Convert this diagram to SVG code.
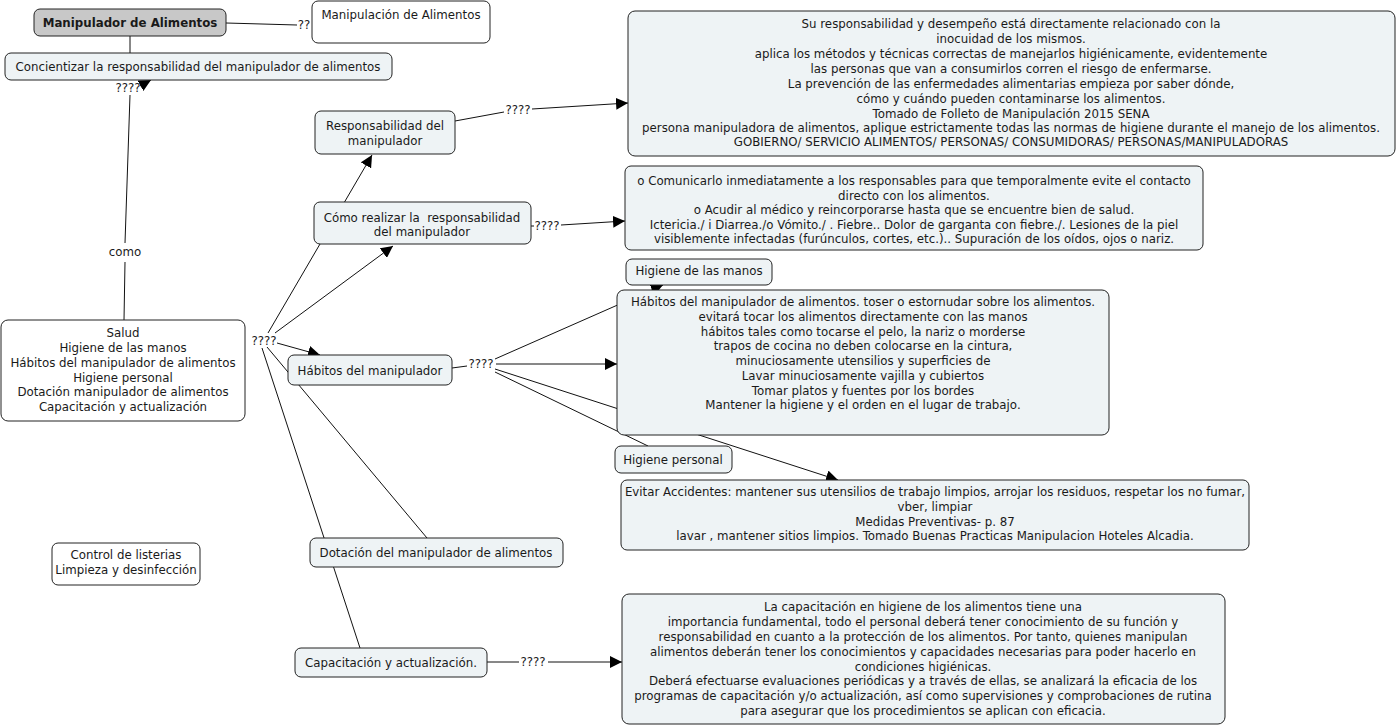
<svg xmlns="http://www.w3.org/2000/svg" width="1398" height="728" viewBox="0 0 1398 728">
<style>
text{font-family:"DejaVu Sans","Verdana",sans-serif;font-size:11.8px;fill:#1a1a1a;text-anchor:middle}
.n{fill:#eef3f5;stroke:#222;stroke-width:1}
.w{fill:#fff;stroke:#222;stroke-width:1}
.r{fill:#c8c8c8;stroke:#222;stroke-width:1}
.c line,.c polyline{stroke:#111;stroke-width:1;fill:none}
.a{marker-end:url(#ah)}
</style>
<defs>
<marker id="ah" viewBox="0 0 10 10" refX="10" refY="5" markerWidth="12" markerHeight="12" markerUnits="userSpaceOnUse" orient="auto"><path d="M0,0 L10,5 L0,10 z" fill="#000"/></marker>
</defs>
<rect width="1398" height="728" fill="#fff"/>
<g class="c" id="connectors">
<line x1="226" y1="23" x2="297" y2="25"/>
<line x1="130" y1="36" x2="130" y2="53"/>
<line x1="124" y1="320" x2="125" y2="262"/>
<line x1="125" y1="243" x2="130" y2="95"/>
<line class="a" x1="140" y1="86" x2="151" y2="80"/>
<line class="a" x1="268" y1="333" x2="372" y2="155"/>
<line class="a" x1="275" y1="333" x2="393" y2="246"/>
<line class="a" x1="277" y1="343" x2="320" y2="355"/>
<line x1="267" y1="347" x2="427" y2="538"/>
<line x1="262" y1="348" x2="360" y2="648"/>
<line x1="455" y1="121" x2="504" y2="112"/>
<line class="a" x1="532" y1="109" x2="628" y2="103"/>
<line x1="531" y1="226" x2="534" y2="226"/>
<line class="a" x1="561" y1="225" x2="625" y2="221"/>
<line x1="452" y1="368" x2="467" y2="366"/>
<line class="a" x1="495" y1="359" x2="663" y2="285"/>
<line class="a" x1="496" y1="364" x2="617" y2="364"/>
<line class="a" x1="495" y1="369" x2="838" y2="480"/>
<line x1="495" y1="372" x2="648" y2="446"/>
<line x1="487" y1="662" x2="519" y2="662"/>
<line class="a" x1="548" y1="662" x2="622" y2="662"/>
</g>
<g id="labels">
<text x="304" y="29">??</text>
<text x="125" y="256">como</text>
<text x="128" y="92">????</text>
<text x="264" y="345">????</text>
<text x="518" y="114">????</text>
<text x="547" y="230">????</text>
<text x="481" y="368">????</text>
<text x="533" y="666">????</text>
</g>
<g id="n-root"><rect class="r" x="34" y="9" width="192" height="27" rx="6"/><text x="130" y="27" font-weight="bold">Manipulador de Alimentos</text></g>
<g id="n-manipulacion"><rect class="w" x="312" y="1" width="178" height="42" rx="6"/><text x="401" y="19">Manipulación de Alimentos</text></g>
<g id="n-concientizar"><rect class="n" x="5" y="53" width="387" height="27" rx="6"/><text x="198" y="71">Concientizar la responsabilidad del manipulador de alimentos</text></g>
<g id="n-responsabilidad-texto"><rect class="n" x="628" y="11" width="767" height="145" rx="7"/>
<text x="1011" y="28">Su responsabilidad y desempeño está directamente relacionado con la</text>
<text x="1011" y="43">inocuidad de los mismos.</text>
<text x="1011" y="58">aplica los métodos y técnicas correctas de manejarlos higiénicamente, evidentemente</text>
<text x="1011" y="73">las personas que van a consumirlos corren el riesgo de enfermarse.</text>
<text x="1011" y="88">La prevención de las enfermedades alimentarias empieza por saber dónde,</text>
<text x="1011" y="103">cómo y cuándo pueden contaminarse los alimentos.</text>
<text x="1011" y="118">Tomado de Folleto de Manipulación 2015 SENA</text>
<text x="1011" y="132">persona manipuladora de alimentos, aplique estrictamente todas las normas de higiene durante el manejo de los alimentos.</text>
<text x="1011" y="146">GOBIERNO/ SERVICIO ALIMENTOS/ PERSONAS/ CONSUMIDORAS/ PERSONAS/MANIPULADORAS</text>
</g>
<g id="n-responsabilidad"><rect class="n" x="315" y="111" width="140" height="43" rx="6"/><text x="385" y="130">Responsabilidad del</text><text x="385" y="145">manipulador</text></g>
<g id="n-como-realizar"><rect class="n" x="314" y="202" width="217" height="42" rx="6"/><text x="422" y="222" xml:space="preserve">Cómo realizar la  responsabilidad</text><text x="422" y="236">del manipulador</text></g>
<g id="n-comunicarlo"><rect class="n" x="625" y="166" width="578" height="84" rx="6"/>
<text x="914" y="185">o Comunicarlo inmediatamente a los responsables para que temporalmente evite el contacto</text>
<text x="914" y="199.5">directo con los alimentos.</text>
<text x="914" y="214">o Acudir al médico y reincorporarse hasta que se encuentre bien de salud.</text>
<text x="914" y="228.5">Ictericia./ i Diarrea./o Vómito./ . Fiebre.. Dolor de garganta con fiebre./. Lesiones de la piel</text>
<text x="914" y="243">visiblemente infectadas (furúnculos, cortes, etc.).. Supuración de los oídos, ojos o nariz.</text>
</g>
<g id="n-higiene-manos"><rect class="n" x="626" y="259" width="146" height="26" rx="6"/><text x="699" y="275">Higiene de las manos</text></g>
<g id="n-salud"><rect class="w" x="1" y="320" width="244" height="101" rx="7"/>
<text x="123" y="337">Salud</text>
<text x="123" y="352">Higiene de las manos</text>
<text x="123" y="367">Hábitos del manipulador de alimentos</text>
<text x="123" y="382">Higiene personal</text>
<text x="123" y="396">Dotación manipulador de alimentos</text>
<text x="123" y="411">Capacitación y actualización</text>
</g>
<g id="n-habitos"><rect class="n" x="288" y="355" width="164" height="30" rx="6"/><text x="370" y="375">Hábitos del manipulador</text></g>
<g id="n-habitos-texto"><rect class="n" x="617" y="290" width="492" height="145" rx="7"/>
<text x="863" y="306">Hábitos del manipulador de alimentos. toser o estornudar sobre los alimentos.</text>
<text x="863" y="321">evitará tocar los alimentos directamente con las manos</text>
<text x="863" y="335.5">hábitos tales como tocarse el pelo, la nariz o morderse</text>
<text x="863" y="350">trapos de cocina no deben colocarse en la cintura,</text>
<text x="863" y="365">minuciosamente utensilios y superficies de</text>
<text x="863" y="380">Lavar minuciosamente vajilla y cubiertos</text>
<text x="863" y="394.5">Tomar platos y fuentes por los bordes</text>
<text x="863" y="409">Mantener la higiene y el orden en el lugar de trabajo.</text>
</g>
<g id="n-higiene-personal"><rect class="n" x="615" y="446" width="117" height="27" rx="6"/><text x="673" y="464">Higiene personal</text></g>
<g id="n-evitar"><rect class="n" x="621" y="480" width="628" height="70" rx="6"/>
<text x="935" y="496">Evitar Accidentes: mantener sus utensilios de trabajo limpios, arrojar los residuos, respetar los no fumar,</text>
<text x="935" y="511">vber, limpiar</text>
<text x="935" y="525.5">Medidas Preventivas- p. 87</text>
<text x="935" y="540">lavar , mantener sitios limpios. Tomado Buenas Practicas Manipulacion Hoteles Alcadia.</text>
</g>
<g id="n-control"><rect class="w" x="52" y="543" width="148" height="42" rx="6"/><text x="126" y="559">Control de listerias</text><text x="126" y="574">Limpieza y desinfección</text></g>
<g id="n-dotacion"><rect class="n" x="310" y="538" width="253" height="29" rx="6"/><text x="436" y="557">Dotación del manipulador de alimentos</text></g>
<g id="n-capacitacion"><rect class="n" x="295" y="648" width="192" height="29" rx="6"/><text x="391" y="667">Capacitación y actualización.</text></g>
<g id="n-capacitacion-texto"><rect class="n" x="622" y="594" width="603" height="130" rx="7"/>
<text x="923" y="611">La capacitación en higiene de los alimentos tiene una</text>
<text x="923" y="626">importancia fundamental, todo el personal deberá tener conocimiento de su función y</text>
<text x="923" y="641">responsabilidad en cuanto a la protección de los alimentos. Por tanto, quienes manipulan</text>
<text x="923" y="656">alimentos deberán tener los conocimientos y capacidades necesarias para poder hacerlo en</text>
<text x="923" y="671">condiciones higiénicas.</text>
<text x="923" y="685">Deberá efectuarse evaluaciones periódicas y a través de ellas, se analizará la eficacia de los</text>
<text x="923" y="700">programas de capacitación y/o actualización, así como supervisiones y comprobaciones de rutina</text>
<text x="923" y="714.5">para asegurar que los procedimientos se aplican con eficacia.</text>
</g>
</svg>
